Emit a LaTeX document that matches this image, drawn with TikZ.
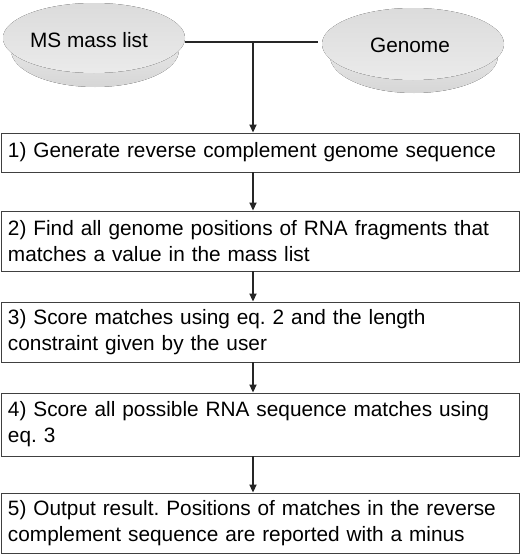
\documentclass[tikz,border=0pt]{standalone}
\usepackage{fontspec}
\setmainfont{Liberation Sans}
\usetikzlibrary{arrows.meta,shapes.geometric}
\frenchspacing
\begin{document}
\begin{tikzpicture}[x=1pt,y=-1pt,
  every node/.style={font=\fontsize{20.8}{26}\selectfont},
  stepbox/.style={draw=black!75,line width=.9pt,rectangle,minimum width=518pt,text width=504pt,align=left,inner xsep=7pt},
  disk/.style={ellipse,minimum width=182pt,minimum height=70pt},
  arr/.style={line width=1.8pt,black!85,-{Triangle[length=8pt,width=7pt]}}]
\useasboundingbox (0,0) rectangle (520,554);
% disks
\fill[top color=gray!10,bottom color=gray!32] (95,50) ellipse (84 and 37);
\fill[top color=gray!28,bottom color=gray!16] (94,38) ellipse (91 and 35);
\fill[top color=gray!10,bottom color=gray!32] (414,56) ellipse (84 and 37);
\fill[top color=gray!28,bottom color=gray!16] (413,44) ellipse (91 and 36);
\node[disk] (ms) at (89,40) {MS mass list};
\node[disk] (gen) at (410,45) {Genome};
\coordinate (join) at (253,42);
% steps
\node[stepbox,minimum height=39pt] (s1) at (260,152.5) {1) Generate reverse complement genome sequence};
\node[stepbox,minimum height=60pt] (s2) at (260,241) {2) Find all genome positions of RNA fragments that\\matches a value in the mass list};
\node[stepbox,minimum height=60pt] (s3) at (260,332) {3) Score matches using eq. 2 and the length\\constraint given by the user};
\node[stepbox,minimum height=63pt] (s4) at (260,424.5) {4) Score all possible RNA sequence matches using\\eq. 3};
\node[stepbox,minimum height=60pt] (s5) at (260,523) {5) Output result. Positions of matches in the reverse\\complement sequence are reported with a minus};
% connectors
\draw[line width=1.8pt,black!85] (185,42) -- (318,42);
\draw[arr] (join) -- (s1.north -| join);
\foreach \a/\b in {s1/s2,s2/s3,s3/s4,s4/s5}\draw[arr] (\a.south -| join) -- (\b.north -| join);
\end{tikzpicture}
\end{document}
